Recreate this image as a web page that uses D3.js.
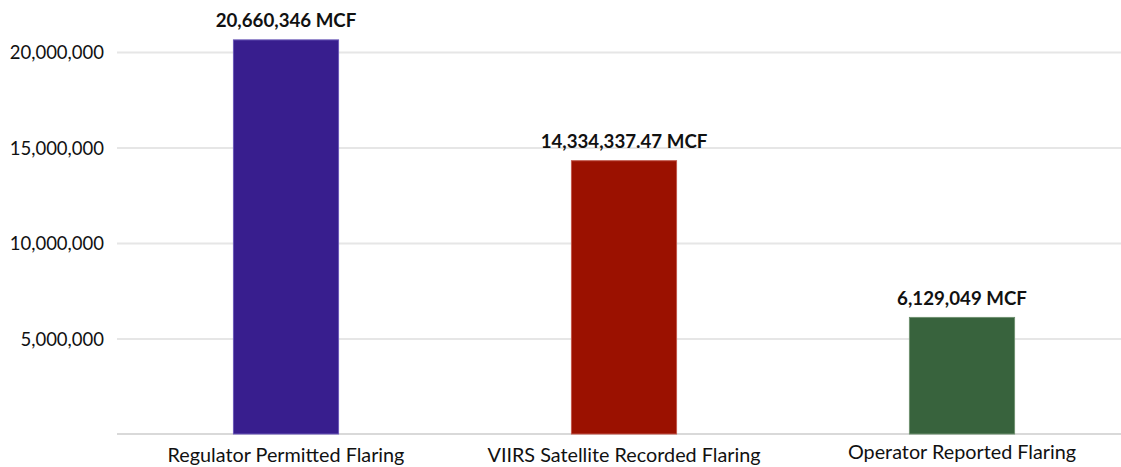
<!DOCTYPE html>
<html>
<head>
<meta charset="utf-8">
<script src="https://cdn.jsdelivr.net/npm/d3@7"></script>
<style>
  html, body { margin: 0; padding: 0; background: #fff; }
  svg { display: block; }
</style>
</head>
<body>
<svg id="chart" width="1121" height="467"></svg>
<script>
const categories = ["Regulator Permitted Flaring", "VIIRS Satellite Recorded Flaring", "Operator Reported Flaring"];
const values = [20660346, 14334337.47, 6129049];
const valueLabels = ["20,660,346 MCF", "14,334,337.47 MCF", "6,129,049 MCF"];
const colors = ["#381e8e", "#9b1100", "#38633d"];
const edgeColors = ["#6a58b8", "#c0574a", "#6f9070"];
const yTicks = [5000000, 10000000, 15000000, 20000000];

const W = 1121, H = 467;
const margin = { left: 117, right: -10, top: 0, bottom: 33 };
const svg = d3.select("#chart");
const font = "Lato, 'Open Sans', sans-serif";

const x = d3.scaleBand().domain(categories).range([margin.left, W - margin.right]).paddingInner(0.686).paddingOuter(0.343);
const y = d3.scaleLinear().domain([0, 22700000]).range([434, 434 - 22.7 * 19.1]);

// gridlines
const yAxis = d3.axisLeft(y).tickValues(yTicks).tickSize(-(W - margin.left)).tickFormat(d3.format(","));
const gy = svg.append("g").attr("transform", `translate(${margin.left},0)`).call(yAxis);
gy.select(".domain").remove();
gy.selectAll(".tick line").attr("stroke", "#e6e6e6").attr("stroke-width", 2);
gy.selectAll(".tick text").attr("x", -13).attr("dy", "0.36em")
  .attr("font-family", font).attr("font-size", 18.5).attr("fill", "#111");

// baseline
svg.append("line").attr("x1", margin.left).attr("x2", W).attr("y1", y(0)).attr("y2", y(0))
  .attr("stroke", "#d9d9d9").attr("stroke-width", 2);

// bars
svg.append("g").selectAll("rect").data(values).join("rect")
  .attr("x", (d, i) => x(categories[i]) + 0.5)
  .attr("width", x.bandwidth() - 1)
  .attr("y", d => y(d) + 0.5)
  .attr("height", d => y(0) - y(d) - 0.5)
  .attr("fill", (d, i) => colors[i])
  .attr("stroke", (d, i) => edgeColors[i])
  .attr("stroke-width", 1);

// value labels
svg.append("g").selectAll("text").data(values).join("text")
  .attr("x", (d, i) => x(categories[i]) + x.bandwidth() / 2)
  .attr("y", d => y(d) - 12)
  .attr("text-anchor", "middle")
  .attr("font-family", font).attr("font-weight", "bold").attr("font-size", 18.7).attr("fill", "#111")
  .text((d, i) => valueLabels[i]);

// category labels
const catY = [462, 462, 459];
svg.append("g").selectAll("text").data(categories).join("text")
  .attr("x", d => x(d) + x.bandwidth() / 2)
  .attr("y", (d, i) => catY[i])
  .attr("text-anchor", "middle")
  .attr("font-family", font).attr("font-size", 19.8).attr("fill", "#111")
  .text(d => d);
</script>
</body>
</html>
